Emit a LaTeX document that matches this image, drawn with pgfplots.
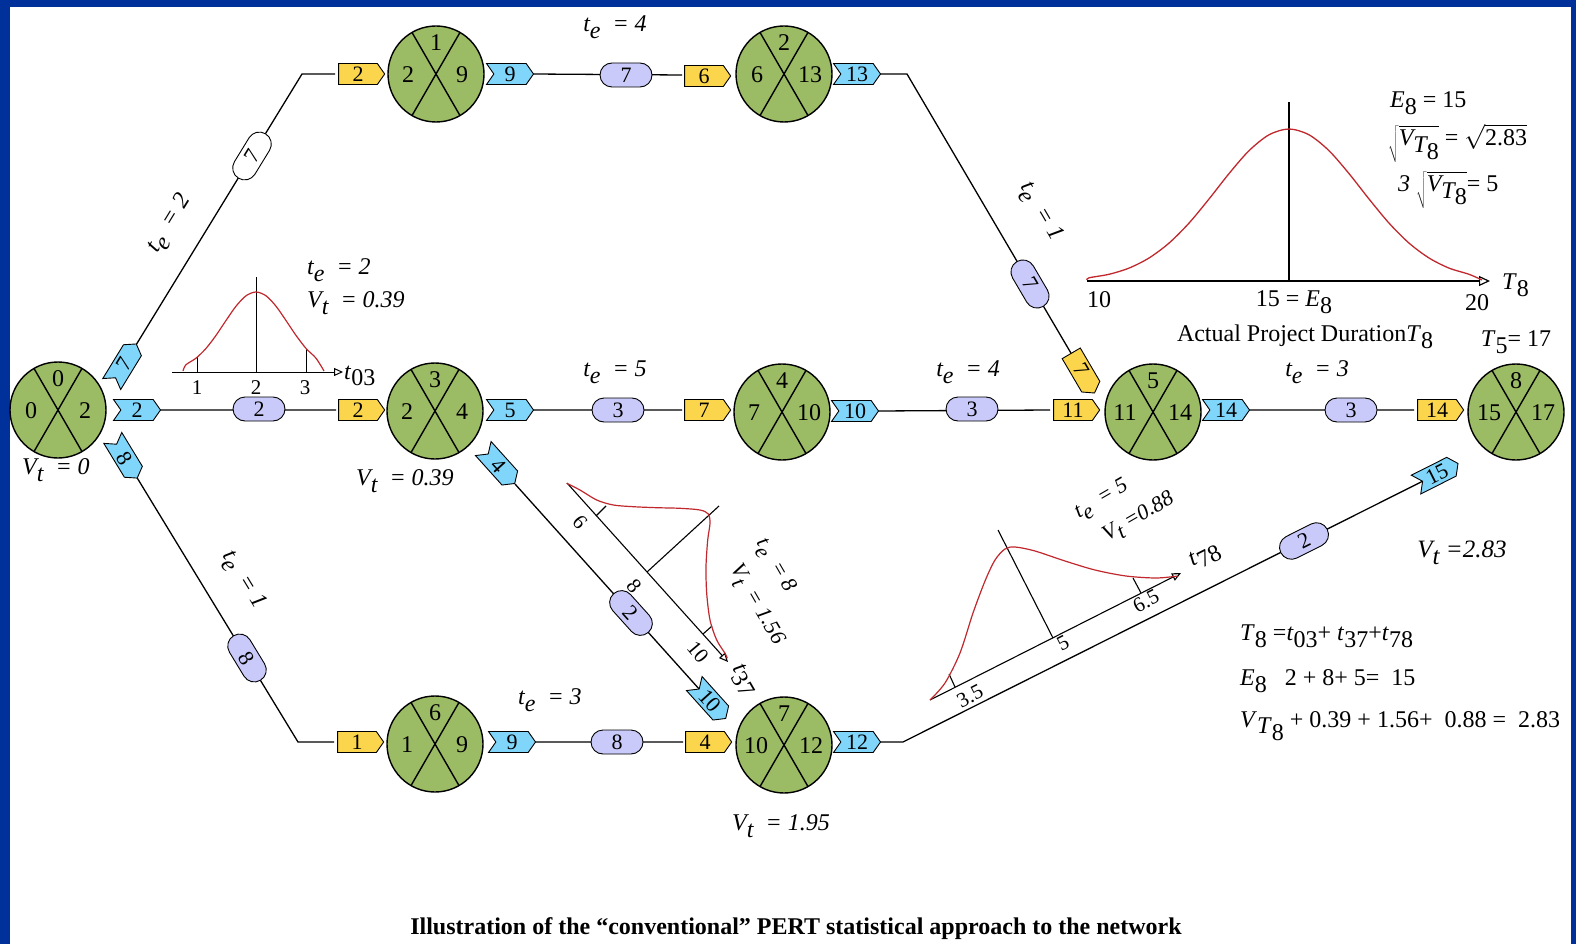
\documentclass[border=0pt]{standalone}
\usepackage{pgfplots}
\pgfplotsset{compat=1.18}
\usetikzlibrary{shapes.symbols,shapes.misc,arrows.meta}
\usepackage{fontspec}
\setmainfont{Liberation Serif}
\definecolor{bord}{HTML}{00309A}
\definecolor{ngreen}{HTML}{9BBB65}
\definecolor{tyellow}{HTML}{FBD54C}
\definecolor{tblue}{HTML}{80D6FA}
\definecolor{tlav}{HTML}{CACAFA}
\definecolor{cred}{HTML}{C0282D}
\newcommand{\fs}[1]{\fontsize{#1}{#1}\selectfont}
\newcommand{\lo}[1]{\raisebox{-0.6ex}{#1}}
\newcommand{\te}[1]{\textit{t\lo{e}\ \ = #1}}
\newcommand{\vt}[1]{\textit{V\lo{t}\ \ = #1}}
\pgfdeclareplotmark{pert}{%
  \pgfpathcircle{\pgfpointorigin}{\pgfplotmarksize}\pgfusepathqfillstroke
  \pgfpathmoveto{\pgfpointpolar{60}{\pgfplotmarksize}}\pgfpathlineto{\pgfpointpolar{240}{\pgfplotmarksize}}%
  \pgfpathmoveto{\pgfpointpolar{120}{\pgfplotmarksize}}\pgfpathlineto{\pgfpointpolar{300}{\pgfplotmarksize}}%
  \pgfusepathqstroke}
\pgfplotsset{
  lab/.style={draw=none, mark=none, point meta=explicit symbolic, nodes near coords,
    nodes near coords align={center},
    visualization depends on=\thisrow{rot}\as\rot},
}
\begin{document}
\begin{tikzpicture}
\begin{axis}[name=ax, at={(0,0)}, anchor=south west, scale only axis,
  width=1576pt, height=944pt, xmin=0, xmax=1576, ymin=0, ymax=944,
  y dir=reverse, hide axis, clip=false, unbounded coords=jump]
% background
\addplot[draw=none, fill=bord] coordinates {(0,0) (1576,0) (1576,944) (0,944)} -- cycle;
\addplot[draw=none, fill=white] coordinates {(10,7) (1571,7) (1571,944) (10,944)} -- cycle;
% edges
\addplot[black, line width=1.3pt] coordinates {
 (136,345) (302,74) (335,74) (nan,nan)
 (160,410) (336,410) (nan,nan)
 (136,476) (298,742) (334,742) (nan,nan)
 (533,74) (682,75) (nan,nan)
 (880,74) (907,74) (1075,360) (nan,nan)
 (533,410) (682,410) (nan,nan)
 (515,484) (700,690) (nan,nan)
 (878,411) (1050,410) (nan,nan)
 (1249,410) (1414,410) (nan,nan)
 (535,742) (683,742) (nan,nan)
 (880,742) (903,742) (1425,480)};
% t03 distribution
\addplot[black, line width=1pt, -{Triangle[open,length=9pt,width=8pt]}] coordinates {(172,372) (343,372)};
\addplot[black, line width=1pt] coordinates {(256,372) (256,277) (nan,nan) (197,372) (197,357) (nan,nan) (306,372) (306,349)};
\addplot[cred, line width=1.2pt, smooth] coordinates {(183,371) (186,364.7) (196,358.2) (206,348.4) (216,335.4) (226,320.5) (236,306.2) (246,295.8) (256,292) (266,295.8) (276,306.2) (286,320.5) (296,335.4) (306,348.4) (316,358.2) (324,371)};
% big distribution
\addplot[black, line width=1.2pt, -{Triangle[open,length=11pt,width=10pt]}] coordinates {(1087,281) (1490,281)};
\addplot[black, line width=1.2pt] coordinates {(1289,281) (1289,102)};
\addplot[cred, line width=1.3pt, smooth] coordinates {(1087,280) (1089,277.8) (1109,274.3) (1129,268.1) (1149,258.0) (1169,243.1) (1189,223.1) (1209,199.0) (1229,173.6) (1249,150.7) (1269,134.8) (1289,129) (1309,134.8) (1329,150.7) (1349,173.6) (1369,199.0) (1389,223.1) (1409,243.1) (1429,258.0) (1449,268.1) (1469,274.3) (1482,280)};
% t37 distribution
\addplot[black, line width=1.1pt, -{Triangle[open,length=9pt,width=8pt]}] coordinates {(567,483) (728,662)};
\addplot[black, line width=1.1pt] coordinates {(596,516) (606,506) (nan,nan) (647,572) (719,506) (nan,nan) (703,634) (712,626)};
\addplot[cred, line width=1.2pt, smooth] coordinates {(566.7,483.3) (580,490) (596.7,500) (613.3,505) (633.3,506.7) (656.7,507.7) (680,508.3) (700,510) (708.3,514) (710,523.3) (707.7,540) (706,566.7) (706.7,593.3) (710,620) (716.7,640) (725,653.3) (727.3,658.3)};
% t78 distribution
\addplot[black, line width=1.1pt, -{Triangle[open,length=9pt,width=8pt]}] coordinates {(930,700) (1181,573)};
\addplot[black, line width=1.1pt] coordinates {(955,687) (949,674) (nan,nan) (1053,638) (998,530) (nan,nan) (1141,593) (1133,578)};
\addplot[cred, line width=1.2pt, smooth] coordinates {(930,700) (945,683) (960,653) (973,613) (985,581) (995,560) (1005,549) (1015,547) (1035,551) (1065,561) (1095,570) (1126,576) (1156,578) (1178,576)};
% event circles
\addplot[only marks, mark=pert, mark size=48pt, mark options={fill=ngreen, draw=black, line width=1.4pt}] coordinates {
 (58,410) (436,74) (784,74) (435,411) (782,412) (1153,412) (435,744) (784,745) (1516,412)};
\addplot[lab, every node near coord/.append style={anchor=center, inner sep=0pt, font=\fs{24}, text=black}] table[meta=lab] {
x y rot lab
58 379 0 0
31 411 0 0
85 411 0 2
436 43 0 1
408 75 0 2
462 75 0 9
784 43 0 2
757 75 0 6
810 75 0 13
435 380 0 3
407 412 0 2
462 412 0 4
782 381 0 4
754 413 0 7
809 413 0 10
1153 381 0 5
1125 413 0 11
1180 413 0 14
435 713 0 6
407 745 0 1
462 745 0 9
784 714 0 7
756 746 0 10
811 746 0 12
1516 381 0 8
1489 413 0 15
1543 413 0 17
};
% yellow tags
\addplot[lab, every node near coord/.append style={anchor=center, shape=signal, signal to=east, signal pointer angle=110, fill=tyellow, draw=black, line width=0.9pt, minimum width=46pt, minimum height=21pt, inner sep=1pt, font=\fs{22}, text=black, rotate=\rot}] table[meta=lab] {
x y rot lab
358 74 0 2
358 410 0 2
357 742 0 1
704 76 0 6
704 410 0 7
705 742 0 4
1073 410 0 11
1437 410 0 14
1081 370 -59.6 7
};
% blue tags
\addplot[lab, every node near coord/.append style={anchor=center, shape=signal, signal from=west, signal to=east, signal pointer angle=110, fill=tblue, draw=black, line width=0.9pt, minimum width=47pt, minimum height=21pt, inner sep=1pt, font=\fs{22}, text=black, rotate=\rot}] table[meta=lab] {
x y rot lab
124 364 58.5 7
137 410 0 2
125 458 -58.7 8
510 74 0 9
857 74 0 13
510 410 0 5
499 466 -48 4
855 411 0 10
1226 410 0 14
512 742 0 9
710 701 -48 10
857 742 0 12
1437 474 26.7 15
};
% lavender pills
\addplot[lab, every node near coord/.append style={anchor=center, shape=rounded rectangle, fill=tlav, draw=black, line width=0.9pt, minimum width=54pt, minimum height=24pt, inner sep=1pt, font=\fs{22}, text=black, rotate=\rot}] table[meta=lab] {
x y rot lab
259 409 0 2
626 75 0 7
618 410 0 3
972 409 0 3
1351 410 0 3
617 742 0 8
247 658 -58.7 8
1030 284 -59.6 7
631 613 -48 2
1304 541 26.7 2
};
% white pill
\addplot[lab, every node near coord/.append style={anchor=center, shape=rounded rectangle, fill=white, draw=black, line width=0.9pt, minimum width=54pt, minimum height=24pt, inner sep=1pt, font=\fs{22}, text=black, rotate=\rot}] table[meta=lab] {
x y rot lab
252 156 58.5 7
};
% texts
\begin{scope}[every node/.style={font=\fs{24}, inner sep=0pt}]
\node[rotate=58.5] at (axis cs:170,224) {\te{2}};
\node at (axis cs:615,27) {\te{4}};
\node[rotate=-59.6] at (axis cs:1040,212) {\te{1}};
\node[anchor=west] at (axis cs:307,270) {\te{2}};
\node[anchor=west] at (axis cs:307,303) {\vt{0.39}};
\node[anchor=west] at (axis cs:344,376) {\textit{t}\lo{03}};
\node[font=\fs{21}] at (axis cs:197,388) {1};
\node[font=\fs{21}] at (axis cs:256,388) {2};
\node[font=\fs{21}] at (axis cs:305,388) {3};
\node at (axis cs:615,372) {\te{5}};
\node at (axis cs:968,372) {\te{4}};
\node at (axis cs:1317,372) {\te{3}};
\node[rotate=-58.7] at (axis cs:243,580) {\te{1}};
\node at (axis cs:550,700) {\te{3}};
\node at (axis cs:56,470) {\vt{0}};
\node at (axis cs:405,481) {\vt{0.39}};
\node at (axis cs:781,826) {\vt{1.95}};
\node[font=\fs{25}] at (axis cs:1462,553) {\textit{V\lo{t}\ =2.83}};
% t37 labels
\node[rotate=-60, font=\fs{22}] at (axis cs:775,566) {\te{8}};
\node[rotate=-60, font=\fs{22}] at (axis cs:756,605) {\vt{1.56}};
\node[rotate=-60] at (axis cs:743,680) {\textit{t}\lo{37}};
\node[rotate=-50, font=\fs{21}] at (axis cs:580,522) {6};
\node[rotate=-50, font=\fs{21}] at (axis cs:634,586) {8};
\node[rotate=-50, font=\fs{21}] at (axis cs:698,652) {10};
% t78 labels
\node[rotate=30, font=\fs{22}] at (axis cs:1102,500) {\te{5}};
\node[rotate=30, font=\fs{22}] at (axis cs:1139,518) {\textit{V\lo{t}\ =0.88}};
\node[rotate=27] at (axis cs:1205,556) {\textit{t}\lo{78}};
\node[rotate=27, font=\fs{21}] at (axis cs:970,696) {3.5};
\node[rotate=27, font=\fs{21}] at (axis cs:1063,643) {5};
\node[rotate=27, font=\fs{21}] at (axis cs:1146,601) {6.5};
% big distribution labels
\node at (axis cs:1099,300) {10};
\node at (axis cs:1294,302) {15 = \textit{E}\lo{8}};
\node at (axis cs:1477,303) {20};
\node[anchor=west] at (axis cs:1502,285) {\textit{T}\lo{8}};
\node at (axis cs:1305,337) {Actual Project Duration\textit{T}\lo{8}};
\node[anchor=west] at (axis cs:1390,103) {\textit{E}\lo{8} = 15};
\node[anchor=west] at (axis cs:1388,143) {$\sqrt{\mbox{\itshape V\lo{T\lo{\upshape 8}}}}$ = $\sqrt{\mbox{2.83}}$};
\node[anchor=west] at (axis cs:1398,190) {\textit{3} $\sqrt{\mbox{\itshape V\lo{T\lo{\upshape 8}}}}$= 5};
\node at (axis cs:1516,342) {\textit{T}\lo{5}= 17};
% bottom right formulas
\node[anchor=west] at (axis cs:1240,636) {\textit{T}\lo{8} =\textit{t}\lo{03}+ \textit{t}\lo{37}+\textit{t}\lo{78}};
\node[anchor=west] at (axis cs:1240,681) {\textit{E}\lo{8}\ \ \ 2 + 8+ 5=\ \ 15};
\node[anchor=west] at (axis cs:1240,726) {\textit{V}\lo{\textit{T}\lo{8}} + 0.39 + 1.56+\ \ 0.88 =\ \ 2.83};
\node[font=\fs{24}\bfseries] at (axis cs:796,929) {Illustration of the “conventional” PERT statistical approach to the network};
\end{scope}
\end{axis}
\pgfresetboundingbox
\path[use as bounding box] (ax.south west) rectangle (ax.north east);
\end{tikzpicture}
\end{document}
